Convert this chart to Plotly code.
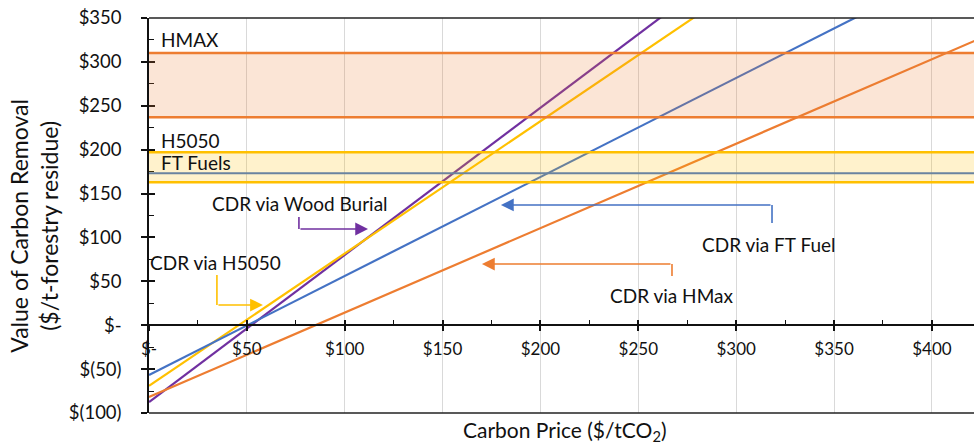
import plotly.graph_objects as go

# ---------------- data ----------------
carbon_price = [0, 50, 100, 150, 200, 250, 300, 350, 400, 450]
wood_burial = [-87.5, -3.7, 80.1, 163.9, 247.7, 331.5, 415.3, 499.1, 582.9, 666.7]
h5050 = [-69.0, 6.4, 81.7, 157.0, 232.4, 307.8, 383.1, 458.5, 533.8, 609.2]
ft_fuel = [-56.7, -0.3, 56.1, 112.5, 168.9, 225.3, 281.7, 338.1, 394.5, 450.9]
hmax = [-81.8, -33.7, 14.4, 62.5, 110.6, 158.7, 206.8, 254.9, 303.0, 351.1]

# reference bands ($/t)
hmax_band = [237, 310]
h5050_band = [163, 197]
ft_fuels_level = 173

x_tickvals = [0, 50, 100, 150, 200, 250, 300, 350, 400]
x_ticktext = ["$-", "$50", "$100", "$150", "$200", "$250", "$300", "$350", "$400"]
y_tickvals = [-100, -50, 0, 50, 100, 150, 200, 250, 300, 350]
y_ticktext = ["$(100)", "$(50)", "$-", "$50", "$100", "$150", "$200", "$250", "$300", "$350"]

x_range = [0, 421.5]
y_range = [-100, 350]

# callout connectors: elbow start (x, y), corner (x, y), arrow tip (x, y)
wood_callout = dict(text="CDR via Wood Burial", tx=77, ty=139,
                    px=[76.6, 76.6], py=[123.3, 109.6], tip=(111.9, 109.6))
h5050_callout = dict(text="CDR via H5050", tx=34, ty=72,
                     px=[34.7, 34.7], py=[57.2, 23.0], tip=(58.2, 23.0))
ft_callout = dict(text="CDR via FT Fuel", tx=317, ty=91.4,
                  px=[318.3, 318.3], py=[116.4, 137.0], tip=(179.8, 137.0))
hmax_callout = dict(text="CDR via HMax", tx=266.7, ty=33.3,
                    px=[267.2, 267.2], py=[56.1, 69.7], tip=(170.1, 69.7))

PURPLE = "#7030A0"
YELLOW = "#FFC000"
BLUE = "#4472C4"
ORANGE = "#ED7D31"
FONT = "Lato"
TXT = "#111111"

fig = go.Figure()

series = [(wood_burial, PURPLE), (h5050, YELLOW), (ft_fuel, BLUE), (hmax, ORANGE)]
for vals, col in series:
    fig.add_trace(go.Scatter(x=carbon_price, y=vals, mode="lines",
                             line=dict(color=col, width=2.2),
                             showlegend=False, hoverinfo="skip"))

# dummy traces so overlay axes are created
fig.add_trace(go.Scatter(x=[None], y=[None], xaxis="x2", yaxis="y", showlegend=False, hoverinfo="skip"))
fig.add_trace(go.Scatter(x=[None], y=[None], xaxis="x", yaxis="y2", showlegend=False, hoverinfo="skip"))

shapes = []
# band fills (translucent, above the lines)
shapes.append(dict(type="rect", xref="paper", yref="y", x0=0, x1=1,
                   y0=hmax_band[0], y1=hmax_band[1], fillcolor=ORANGE, opacity=0.2,
                   line=dict(width=0), layer="above"))
shapes.append(dict(type="rect", xref="paper", yref="y", x0=0, x1=1,
                   y0=h5050_band[0], y1=h5050_band[1], fillcolor=YELLOW, opacity=0.2,
                   line=dict(width=0), layer="above"))
for v in hmax_band:
    shapes.append(dict(type="line", xref="paper", yref="y", x0=0, x1=1, y0=v, y1=v,
                       line=dict(color=ORANGE, width=2.5), layer="above"))
for v in h5050_band:
    shapes.append(dict(type="line", xref="paper", yref="y", x0=0, x1=1, y0=v, y1=v,
                       line=dict(color=YELLOW, width=2.5), layer="above"))
shapes.append(dict(type="line", xref="paper", yref="y", x0=0, x1=1,
                   y0=ft_fuels_level, y1=ft_fuels_level,
                   line=dict(color="#6A83A0", width=2), layer="above"))
# frame top and bottom
for py_ in [0, 1]:
    shapes.append(dict(type="line", xref="paper", yref="paper", x0=0, x1=1, y0=py_, y1=py_,
                       line=dict(color="#222222", width=1.5), layer="above"))

annotations = []
for co, col in [(wood_callout, PURPLE), (h5050_callout, YELLOW), (ft_callout, BLUE), (hmax_callout, ORANGE)]:
    fig.add_trace(go.Scatter(x=co["px"], y=co["py"], mode="lines",
                             line=dict(color=col, width=1.6),
                             showlegend=False, hoverinfo="skip"))
    annotations.append(dict(x=co["tip"][0], y=co["tip"][1], ax=co["px"][1], ay=co["py"][1],
                            xref="x", yref="y", axref="x", ayref="y", text="",
                            showarrow=True, arrowhead=2, arrowsize=1.6, arrowwidth=1.6,
                            arrowcolor=col, standoff=0, startstandoff=0))
    annotations.append(dict(x=co["tx"], y=co["ty"], xref="x", yref="y", text=co["text"],
                            showarrow=False, xanchor="center", yanchor="middle",
                            font=dict(family=FONT, size=19, color=TXT)))

# band labels
for label, yv in [("HMAX", 325), ("H5050", 211), ("FT Fuels", 185)]:
    annotations.append(dict(x=5, y=yv, xref="x", yref="y", text=label, showarrow=False,
                            xanchor="left", yanchor="middle",
                            font=dict(family=FONT, size=19, color=TXT)))

# axis titles
annotations.append(dict(x=-0.139, y=0.475, xref="paper", yref="paper",
                        text="Value of Carbon Removal<br>($/t-forestry residue)",
                        textangle=-90, showarrow=False, xanchor="center", yanchor="middle",
                        font=dict(family=FONT, size=23, color=TXT)))
annotations.append(dict(x=0.504, y=-0.045, xref="paper", yref="paper",
                        text="Carbon Price ($/tCO<sub>2</sub>)",
                        showarrow=False, xanchor="center", yanchor="middle",
                        font=dict(family=FONT, size=21, color=TXT)))

zero_pos = (0 - y_range[0]) / (y_range[1] - y_range[0])

fig.update_layout(
    width=974, height=445,
    margin=dict(l=149, r=0, t=18, b=32),
    paper_bgcolor="white", plot_bgcolor="white",
    shapes=shapes, annotations=annotations,
    font=dict(family=FONT, color=TXT),
    xaxis=dict(range=x_range, anchor="free", position=zero_pos,
               tickmode="array", tickvals=x_tickvals, ticktext=x_ticktext,
               ticks="outside", ticklen=5, tickwidth=1.5, tickcolor=TXT,
               showline=True, linecolor=TXT, linewidth=1.5,
               showgrid=True, gridcolor="#D9D9D9", gridwidth=1.2,
               zeroline=False, tickfont=dict(family=FONT, size=17, color=TXT),
               ticklabelstandoff=4, fixedrange=True),
    xaxis2=dict(range=x_range, overlaying="x", anchor="free", position=zero_pos,
                tickmode="linear", tick0=0, dtick=50,
                ticks="inside", ticklen=5, tickwidth=1.5, tickcolor=TXT,
                minor=dict(tickmode="linear", tick0=0, dtick=25, ticks="inside",
                           ticklen=5, tickwidth=1.2, tickcolor=TXT),
                showticklabels=False, showline=False, showgrid=False, zeroline=False),
    yaxis=dict(range=y_range, anchor="x",
               tickmode="array", tickvals=y_tickvals, ticktext=y_ticktext,
               ticks="outside", ticklen=6, tickwidth=1.5, tickcolor=TXT,
               showline=True, linecolor=TXT, linewidth=1.5,
               showgrid=False, zeroline=False,
               tickfont=dict(family=FONT, size=18.5, color=TXT),
               ticklabelstandoff=16, fixedrange=True),
    yaxis2=dict(range=y_range, overlaying="y", anchor="x", side="left",
                tickmode="linear", tick0=-100, dtick=50,
                ticks="inside", ticklen=6, tickwidth=1.5, tickcolor=TXT,
                minor=dict(tickmode="linear", tick0=-100, dtick=25, ticks="inside",
                           ticklen=5, tickwidth=1.2, tickcolor=TXT),
                showticklabels=False, showline=False, showgrid=False, zeroline=False),
)

fig.write_html("out.html", config={"displayModeBar": False},
               post_script="document.body.style.margin='0';document.body.style.padding='0';")
